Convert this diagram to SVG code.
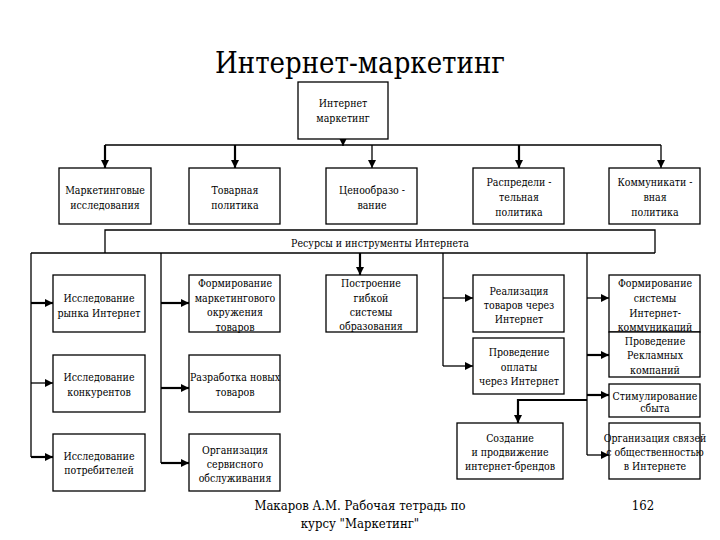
<svg xmlns="http://www.w3.org/2000/svg" width="720" height="540" viewBox="0 0 720 540">
<style>
.box{fill:#fff;stroke:#000;stroke-width:1.3}
text{font-family:'DejaVu Serif Condensed','DejaVu Serif',serif;fill:#000;text-anchor:middle}
.t{font-size:10.5px}
.c{fill:none;stroke:#000;stroke-width:1.3}
.k{fill:none;stroke:#000;stroke-width:2.2}
.title{font-size:29px}
.foot{font-size:13px}
</style>
<defs>
<marker id="a" markerUnits="userSpaceOnUse" markerWidth="9" markerHeight="9" refX="8" refY="4" orient="auto"><path d="M0,0 L8,4 L0,8 z" fill="#000"/></marker>
</defs>
<rect width="720" height="540" fill="#fff"/>
<text class="title" x="360" y="73">Интернет-маркетинг</text>

<g id="connectors">
<path class="c" d="M343,139 V146" marker-end="url(#a)"/>
<path class="c" d="M105,145 H661"/>
<path class="k" d="M105,145 V168" marker-end="url(#a)"/>
<path class="k" d="M235,145 V168" marker-end="url(#a)"/>
<path class="c" d="M372,145 V168" marker-end="url(#a)"/>
<path class="k" d="M519,145 V168" marker-end="url(#a)"/>
<path class="c" d="M661,145 V168" marker-end="url(#a)"/>
<path class="c" d="M31,253 V457"/>
<path class="k" d="M31,303 H53" marker-end="url(#a)"/>
<path class="c" d="M31,383 H53" marker-end="url(#a)"/>
<path class="k" d="M31,457 H53" marker-end="url(#a)"/>
<path class="c" d="M161,253 V463"/>
<path class="k" d="M161,303 H189" marker-end="url(#a)"/>
<path class="k" d="M161,388 H189" marker-end="url(#a)"/>
<path class="k" d="M161,463 H189" marker-end="url(#a)"/>
<path class="k" d="M360,253 V275" marker-end="url(#a)"/>
<path class="c" d="M443,253 V366"/>
<path class="c" d="M443,298 H473" marker-end="url(#a)"/>
<path class="c" d="M443,366 H473" marker-end="url(#a)"/>
<path class="c" d="M587,253 V455"/>
<path class="c" d="M587,298 H609" marker-end="url(#a)"/>
<path class="k" d="M587,355 H609" marker-end="url(#a)"/>
<path class="k" d="M587,395 H609" marker-end="url(#a)"/>
<path class="c" d="M587,455 H609" marker-end="url(#a)"/>
<path class="k" d="M587,400 H518 V423" marker-end="url(#a)"/>
</g>

<g id="n-top"><rect class="box" x="298" y="82" width="90" height="57"/><text class="t" x="343" y="107" font-size="10">Интернет</text><text class="t" x="343" y="122" font-size="10">маркетинг</text></g>

<g id="n-mi"><rect class="box" x="59" y="168" width="92" height="56"/><text class="t" x="105" y="194">Маркетинговые</text><text class="t" x="105" y="209">исследования</text></g>
<g id="n-tp"><rect class="box" x="189" y="168" width="91" height="56"/><text class="t" x="235" y="194">Товарная</text><text class="t" x="235" y="209">политика</text></g>
<g id="n-cen"><rect class="box" x="326" y="168" width="91" height="56"/><text class="t" x="372" y="194">Ценообразо -</text><text class="t" x="372" y="209">вание</text></g>
<g id="n-rasp"><rect class="box" x="473" y="168" width="91" height="56"/><text class="t" x="519" y="186">Распредели -</text><text class="t" x="519" y="201">тельная</text><text class="t" x="519" y="216">политика</text></g>
<g id="n-komm"><rect class="box" x="609" y="168" width="91" height="56"/><text class="t" x="655" y="186">Коммуникати -</text><text class="t" x="655" y="201">вная</text><text class="t" x="655" y="216">политика</text></g>

<g id="n-res"><path class="box" d="M105,253 V230 H655 V253" /><path class="c" d="M31,253 H655"/><text class="t" x="380" y="247">Ресурсы и инструменты Интернета</text></g>

<g id="n-ir"><rect class="box" x="53" y="275" width="92" height="57"/><text class="t" x="99" y="302">Исследование</text><text class="t" x="99" y="317">рынка Интернет</text></g>
<g id="n-ik"><rect class="box" x="53" y="355" width="92" height="57"/><text class="t" x="99" y="381">Исследование</text><text class="t" x="99" y="396">конкурентов</text></g>
<g id="n-ip"><rect class="box" x="53" y="434" width="92" height="57"/><text class="t" x="99" y="460">Исследование</text><text class="t" x="99" y="474">потребителей</text></g>

<g id="n-fm"><rect class="box" x="189" y="275" width="91" height="57"/><text class="t" x="235" y="287">Формирование</text><text class="t" x="235" y="302">маркетингового</text><text class="t" x="235" y="316">окружения</text><text class="t" x="235" y="331">товаров</text></g>
<g id="n-rn"><rect class="box" x="189" y="355" width="91" height="57"/><text class="t" x="235" y="381">Разработка новых</text><text class="t" x="235" y="396">товаров</text></g>
<g id="n-os"><rect class="box" x="189" y="434" width="91" height="57"/><text class="t" x="235" y="454">Организация</text><text class="t" x="235" y="468">сервисного</text><text class="t" x="235" y="482">обслуживания</text></g>

<g id="n-pg"><rect class="box" x="326" y="275" width="91" height="57"/><text class="t" x="371" y="287">Построение</text><text class="t" x="371" y="302">гибкой</text><text class="t" x="371" y="316">системы</text><text class="t" x="371" y="330">образования</text></g>

<g id="n-rt"><rect class="box" x="473" y="275" width="91" height="57"/><text class="t" x="519" y="295">Реализация</text><text class="t" x="519" y="309">товаров через</text><text class="t" x="519" y="323">Интернет</text></g>
<g id="n-po"><rect class="box" x="473" y="338" width="91" height="56"/><text class="t" x="519" y="356">Проведение</text><text class="t" x="519" y="371">оплаты</text><text class="t" x="519" y="385">через Интернет</text></g>
<g id="n-sb"><rect class="box" x="457" y="423" width="106" height="56"/><text class="t" x="510" y="442">Создание</text><text class="t" x="510" y="456">и продвижение</text><text class="t" x="510" y="470">интернет-брендов</text></g>

<g id="n-fs"><rect class="box" x="609" y="275" width="91" height="57"/><text class="t" x="655" y="287">Формирование</text><text class="t" x="655" y="302">системы</text><text class="t" x="655" y="317">Интернет-</text><text class="t" x="655" y="331">коммуникаций</text></g>
<g id="n-prk"><rect class="box" x="609" y="332" width="91" height="45"/><text class="t" x="655" y="345">Проведение</text><text class="t" x="655" y="359">Рекламных</text><text class="t" x="655" y="374">компаний</text></g>
<g id="n-ss"><rect class="box" x="609" y="384" width="91" height="33"/><text class="t" x="655" y="400">Стимулирование</text><text class="t" x="655" y="412">сбыта</text></g>
<g id="n-os2"><rect class="box" x="609" y="423" width="91" height="56"/><text class="t" x="655" y="442">Организация связей</text><text class="t" x="655" y="456">с общественностью</text><text class="t" x="655" y="470">в Интернете</text></g>

<text class="foot" x="360" y="510">Макаров А.М. Рабочая тетрадь по</text>
<text class="foot" x="360" y="528">курсу "Маркетинг"</text>
<text class="foot" x="643" y="510">162</text>
</svg>
